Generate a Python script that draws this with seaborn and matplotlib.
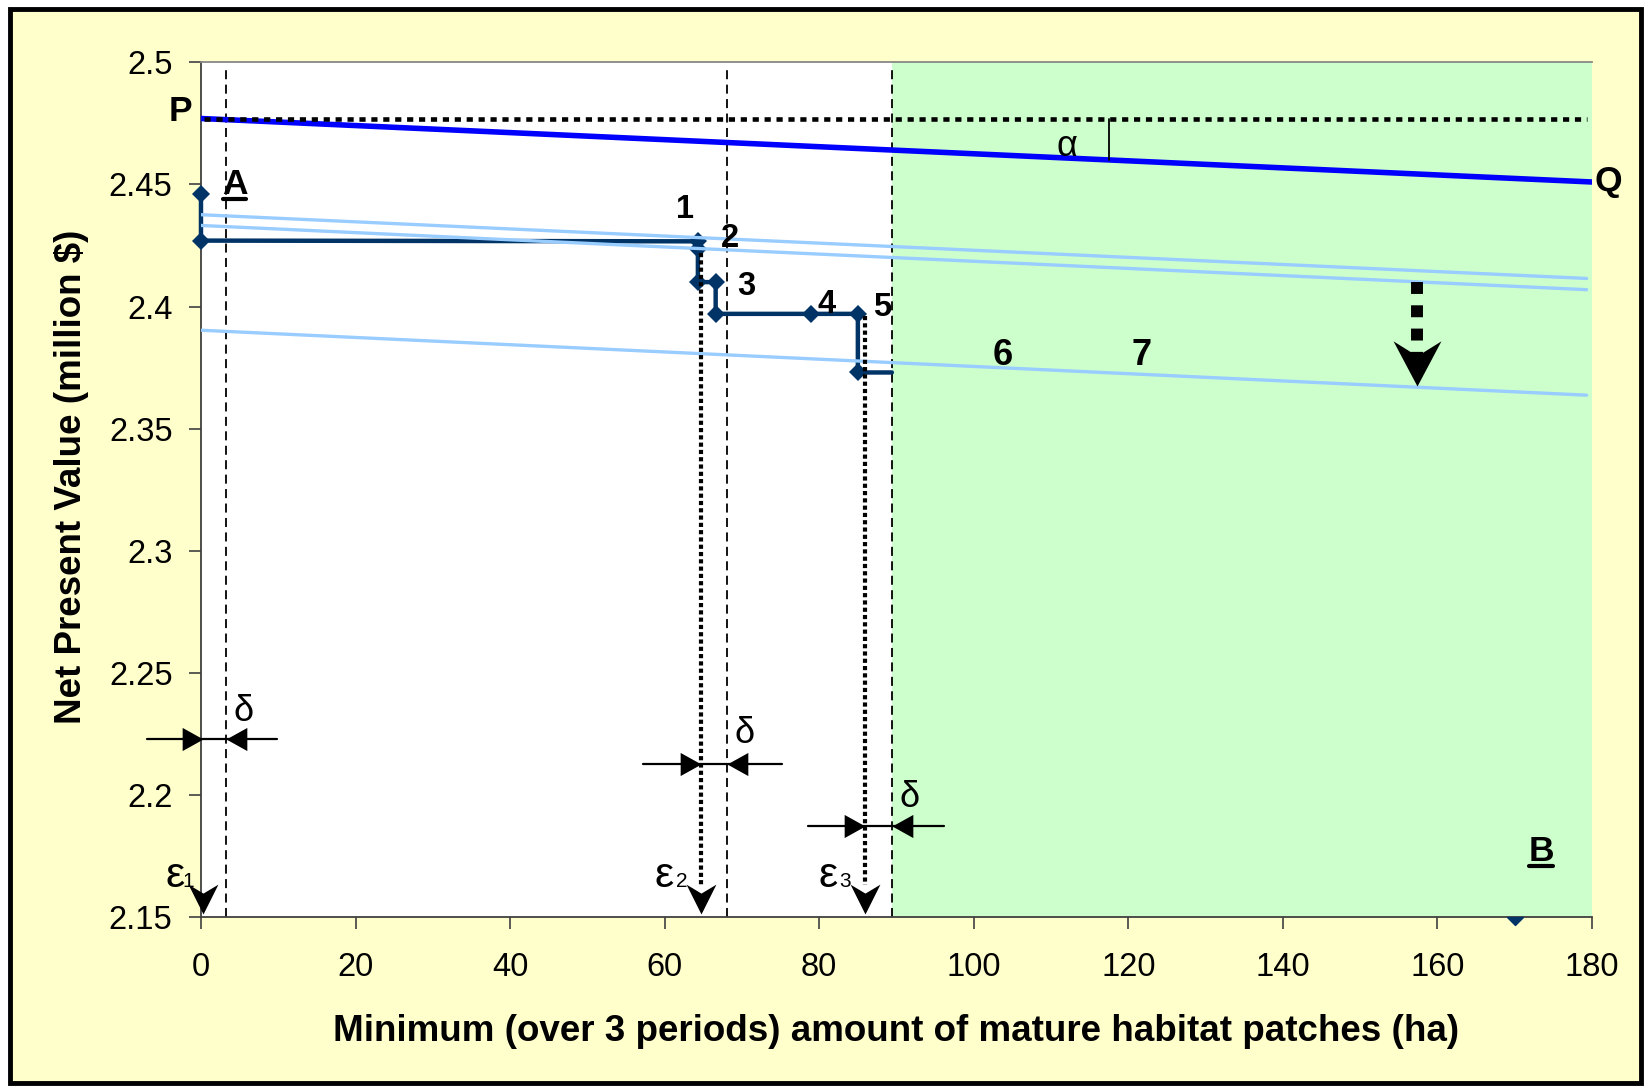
import numpy as np
import matplotlib
matplotlib.use("Agg")
import matplotlib.pyplot as plt
from matplotlib.path import Path
from matplotlib.patches import Rectangle
from matplotlib.lines import Line2D
from matplotlib.ticker import FuncFormatter, MultipleLocator
import seaborn as sns

# ---------------- data ----------------
# stepped frontier (navy), last point has no marker
step_x = [0, 0, 64.3, 64.3, 64.3, 66.6, 66.6, 79.0, 85.0, 85.0, 89.4]
step_y = [2.446, 2.427, 2.4267, 2.4236, 2.410, 2.410, 2.397, 2.397, 2.397, 2.373, 2.373]
# point B sitting on the bottom edge
b_x = [170]
b_y = [2.15]
# upper bound line P-Q and its starting level
pq_x = [0, 180]
pq_y = [2.477, 2.451]
p_level = 2.477
# light blue parallel lines
lb_x = [0, 179.3]
lb1_y = [2.4376, 2.4115]
lb2_y = [2.4332, 2.4069]
lb3_y = [2.3903, 2.3637]
# dashed delta lines and epsilon positions
delta_x = [3.3, 68.1, 89.4]
eps_x = [0.3, 64.7, 85.9]
eps_top = [None, 2.422, 2.396]
# delta double arrows: y level, left end, right end
dlt_y = [2.2229, 2.2127, 2.1871]
dlt_left = [-7.0, 57.2, 78.6]
dlt_right = [9.9, 75.2, 96.1]
green_from = 89.4
alpha_x = 117.5
drop_x = 157.3
drop_from, drop_to = 2.410, 2.3674

NAVY = "#003366"
LIGHT = "#99CCFF"
BLUE = "#0000FF"
GREEN = "#CCFFCC"
YELLOW = "#FFFFCC"

sns.set_theme(style="white")
plt.rcParams["font.family"] = ["Liberation Sans", "DejaVu Sans"]
plt.rcParams["text.color"] = "black"
plt.rcParams["axes.labelcolor"] = "black"
plt.rcParams["xtick.color"] = "black"
plt.rcParams["ytick.color"] = "black"

fig = plt.figure(figsize=(16.46, 10.86), dpi=100)
fig.patch.set_facecolor("white")
fig.add_artist(Rectangle((0.006, 0.003), 0.991, 0.989, transform=fig.transFigure,
                         facecolor=YELLOW, edgecolor="black", lw=3.5, zorder=-5))

ax = fig.add_axes([0.1221, 0.1556, 0.8451, 0.7870])
ax.set_facecolor("white")
ax.set_xlim(0, 180)
ax.set_ylim(2.15, 2.5)

# custom arrow heads (tip at the origin)
down_head = Path([(0, 0), (-0.5, 1), (0, 0.7), (0.5, 1), (0, 0)],
                 [Path.MOVETO, Path.LINETO, Path.LINETO, Path.LINETO, Path.CLOSEPOLY])
big_head = Path([(0, 0), (-0.53, 1), (0, 0.67), (0.53, 1), (0, 0)],
                [Path.MOVETO, Path.LINETO, Path.LINETO, Path.LINETO, Path.CLOSEPOLY])
right_head = Path([(0, 0), (-0.9, 0.5), (-0.9, -0.5), (0, 0)],
                  [Path.MOVETO, Path.LINETO, Path.LINETO, Path.CLOSEPOLY])
left_head = Path([(0, 0), (0.9, 0.5), (0.9, -0.5), (0, 0)],
                 [Path.MOVETO, Path.LINETO, Path.LINETO, Path.CLOSEPOLY])
half_diamond = Path([(-1, 0), (1, 0), (0, -1), (-1, 0)],
                    [Path.MOVETO, Path.LINETO, Path.LINETO, Path.CLOSEPOLY])

# green feasible zone
ax.axvspan(green_from, 180, color=GREEN, lw=0, zorder=0)

# thin dashed delta lines
for xv in delta_x:
    ax.axvline(xv, ymax=0.997, color="black", lw=1.3, dashes=(5, 3), zorder=2)

# stepped frontier
sns.lineplot(x=step_x, y=step_y, sort=False, estimator=None, color=NAVY, lw=3.2,
             marker="D", markersize=9, mec=NAVY, mfc=NAVY, mew=0,
             markevery=list(range(len(step_x) - 1)), clip_on=False, ax=ax, zorder=3)
ax.plot(b_x, b_y, ls="none", marker=half_diamond, markersize=11.5, color=NAVY,
        clip_on=False, zorder=6)

# light blue lines
for yy in (lb1_y, lb2_y, lb3_y):
    sns.lineplot(x=lb_x, y=yy, color=LIGHT, lw=2.4, ax=ax, zorder=4)

# P-Q line and dotted level
sns.lineplot(x=pq_x, y=pq_y, color=BLUE, lw=4, ax=ax, zorder=5)
ax.plot([pq_x[0] + 0.4, lb_x[1]], [p_level, p_level], color="black", lw=3.3,
        dashes=(1.35, 1.25), dash_capstyle="butt", zorder=5)
ax.plot([alpha_x, alpha_x], [np.interp(alpha_x, pq_x, pq_y), p_level],
        color="black", lw=1.3, zorder=5)

# epsilon drop lines with arrow heads
for xv, top in zip(eps_x, eps_top):
    if top is not None:
        ax.plot([xv, xv], [top, 2.163], color="black", lw=3, dashes=(1.0, 0.75),
                dash_capstyle="butt", zorder=5)
    ax.plot([xv], [2.1512], ls="none", marker=down_head, markersize=43,
            color="black", mew=0, clip_on=False, zorder=7)

# delta double arrows
for yv, l, r, a, b in zip(dlt_y, dlt_left, dlt_right, eps_x, delta_x):
    ax.plot([l, r], [yv, yv], color="black", lw=1.6, clip_on=False, zorder=6)
    ax.plot([max(a, 0)], [yv], ls="none", marker=right_head, markersize=30,
            color="black", mew=0, clip_on=False, zorder=7)
    ax.plot([b], [yv], ls="none", marker=left_head, markersize=30,
            color="black", mew=0, clip_on=False, zorder=7)

# big dotted drop arrow
ax.plot([drop_x, drop_x], [drop_from, drop_to + 0.008], color="black", lw=8.6,
        dashes=(1.0, 0.95), dash_capstyle="butt", zorder=6)
ax.plot([drop_x], [drop_to], ls="none", marker=big_head, markersize=65,
        color="black", mew=0, zorder=7)

# ---------------- text labels ----------------
bold = dict(fontweight="bold", ha="center", va="center", clip_on=False, zorder=8,
            color="black")
ax.text(-2.7, 2.4798, "P", fontsize=25.5, **bold)
ax.text(182.1, 2.4512, "Q", fontsize=25.5, **bold)
t_a = ax.text(4.35, 2.4498, "A", fontsize=25.5, **bold)
t_b = ax.text(173.4, 2.1770, "B", fontsize=25.5, **bold)
for s, xx, yy in [("1", 62.6, 2.4396), ("2", 68.4, 2.4280), ("3", 70.5, 2.4083),
                  ("4", 80.9, 2.4008), ("5", 88.1, 2.3994)]:
    ax.text(xx, yy, s, fontsize=23.5, **bold)
ax.text(103.7, 2.3800, "6", fontsize=26, **bold)
ax.text(121.7, 2.3800, "7", fontsize=26, **bold)
ax.text(112.0, 2.4655, "α", fontsize=26, ha="center", va="center", zorder=8)

for xx, yy in [(5.45, 2.234), (70.4, 2.225), (91.7, 2.199)]:
    ax.text(xx, yy, "δ", fontsize=26, ha="center", va="center", zorder=8)

for e_c, s_c, sub in [(-3.4, -1.7, "1"), (59.9, 62.2, "2"), (81.2, 83.3, "3")]:
    ax.text(e_c, 2.1624, "ε", fontsize=31, ha="center", va="baseline",
            clip_on=False, zorder=8)
    ax.text(s_c, 2.1624, sub, fontsize=15, ha="center", va="baseline",
            clip_on=False, zorder=8)

# ---------------- axes styling ----------------
ax.xaxis.set_major_locator(MultipleLocator(20))
ax.yaxis.set_major_locator(MultipleLocator(0.05))
ax.yaxis.set_major_formatter(FuncFormatter(lambda v, p: f"{v:g}"))
ax.tick_params(axis="both", direction="out", length=8.5, width=1.2,
               color="#404040", labelsize=23.5, labelcolor="black")
ax.tick_params(axis="x", pad=17, bottom=True)
ax.tick_params(axis="y", pad=12, left=True)
for side in ("left", "bottom"):
    ax.spines[side].set_color("#404040")
    ax.spines[side].set_linewidth(1.3)
ax.spines["top"].set_color("#888888")
ax.spines["top"].set_linewidth(1.3)
ax.spines["right"].set_visible(False)
ax.grid(False)

ax.set_xlabel("Minimum (over 3 periods) amount of mature habitat patches (ha)",
              fontsize=26.5, fontweight="bold", color="black")
ax.set_ylabel("Net Present Value (million $)", fontsize=26.5, fontweight="bold",
              color="black")
ax.xaxis.set_label_coords(0.5, -0.1345)
ax.xaxis.label.set_va("center")
ax.yaxis.set_label_coords(-0.093, 0.515)
ax.yaxis.label.set_va("center")

# underline A and B
fig.canvas.draw()
inv = fig.transFigure.inverted()
for t in (t_a, t_b):
    bb = t.get_window_extent()
    (x0, y0), (x1, _) = inv.transform([(bb.x0 + 1, bb.y0 + 2), (bb.x1 - 1, bb.y0 + 2)])
    fig.add_artist(Line2D([x0, x1], [y0, y0], transform=fig.transFigure,
                          color="black", lw=3, zorder=10))

fig.savefig("out.png", dpi=100, facecolor=fig.get_facecolor())
